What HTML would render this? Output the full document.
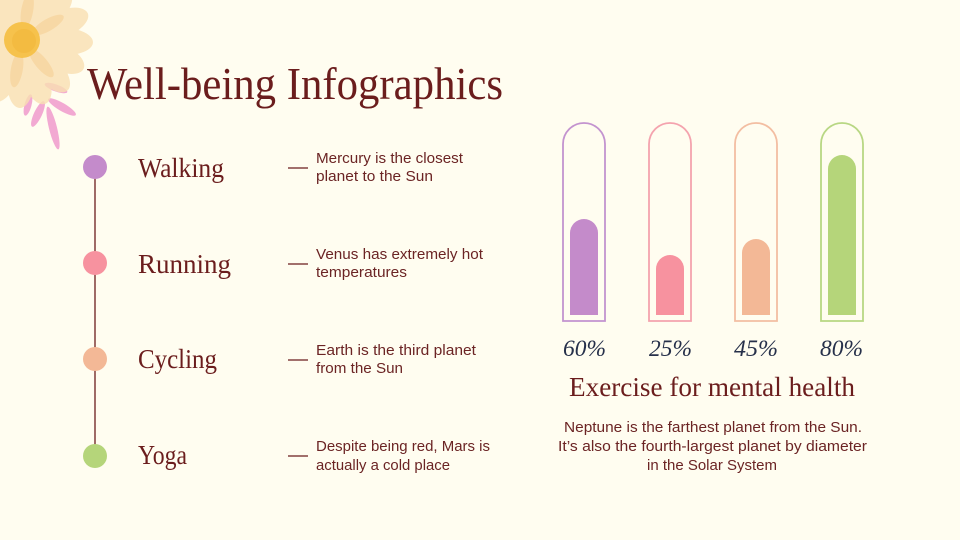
<!DOCTYPE html>
<html><head><meta charset="utf-8"><style>
html,body{margin:0;padding:0;background:#fffdf0;}
svg{display:block;}
</style></head><body>
<svg width="960" height="540" viewBox="0 0 960 540" xmlns="http://www.w3.org/2000/svg">
<rect width="960" height="540" fill="#fffdf0"/>
<!-- flower -->
<g>
  <g fill="#ee8ec8" opacity="0.75">
    <ellipse cx="56" cy="88" rx="12" ry="3.5" transform="rotate(20 56 88)"/>
    <ellipse cx="28" cy="105" rx="3.5" ry="11" transform="rotate(15 28 105)"/>
    <ellipse cx="38" cy="114" rx="4" ry="14" transform="rotate(25 38 114)"/>
    <ellipse cx="62" cy="107" rx="16" ry="4" transform="rotate(30 62 107)"/>
    <ellipse cx="53" cy="128" rx="4" ry="22" transform="rotate(-14 53 128)"/>
  </g>
  <g transform="translate(22 40)">
    <g fill="#f9e0b2" opacity="0.8">
      <ellipse cx="0" cy="-36" rx="14" ry="28"/>
      <ellipse cx="0" cy="-36" rx="14" ry="28" transform="rotate(22)"/>
      <ellipse cx="0" cy="-38" rx="14" ry="30" transform="rotate(45)"/>
      <ellipse cx="0" cy="-40" rx="14" ry="31" transform="rotate(68)"/>
      <ellipse cx="0" cy="-40" rx="14" ry="31" transform="rotate(92)"/>
      <ellipse cx="0" cy="-38" rx="14" ry="30" transform="rotate(115)"/>
      <ellipse cx="0" cy="-38" rx="14" ry="30" transform="rotate(138)"/>
      <ellipse cx="0" cy="-38" rx="14" ry="30" transform="rotate(160)"/>
      <ellipse cx="0" cy="-38" rx="14" ry="30" transform="rotate(182)"/>
      <ellipse cx="0" cy="-38" rx="14" ry="30" transform="rotate(205)"/>
      <ellipse cx="0" cy="-36" rx="14" ry="28" transform="rotate(228)"/>
      <ellipse cx="0" cy="-36" rx="14" ry="28" transform="rotate(260)"/>
      <ellipse cx="0" cy="-36" rx="14" ry="28" transform="rotate(300)"/>
      <ellipse cx="0" cy="-36" rx="14" ry="28" transform="rotate(335)"/>
    </g>
    <g fill="#f6cc8e" opacity="0.5">
      <ellipse cx="0" cy="-30" rx="6" ry="18" transform="rotate(60)"/>
      <ellipse cx="0" cy="-30" rx="6" ry="18" transform="rotate(140)"/>
      <ellipse cx="0" cy="-30" rx="6" ry="18" transform="rotate(190)"/>
      <ellipse cx="0" cy="-30" rx="6" ry="18" transform="rotate(10)"/>
    </g>
    <circle r="18" fill="#f6c24c"/>
    <circle r="12" cx="2" cy="1" fill="#f2b53a" opacity="0.6"/>
  </g>
</g>

<!-- title -->
<text x="87" y="99" font-family="Liberation Serif, serif" font-size="46" fill="#6b1d1d" textLength="416" lengthAdjust="spacingAndGlyphs">Well-being Infographics</text>

<!-- timeline -->
<line x1="95" y1="167" x2="95" y2="456" stroke="#6b1d1d" stroke-width="1.3"/>
<circle cx="95" cy="167" r="12" fill="#c48bcb"/>
<circle cx="95" cy="263" r="12" fill="#f7929f"/>
<circle cx="95" cy="359" r="12" fill="#f3b896"/>
<circle cx="95" cy="456" r="12" fill="#b5d57a"/>

<g font-family="Liberation Serif, serif" font-size="27" fill="#6b1d1d">
  <text x="138" y="177" textLength="86" lengthAdjust="spacingAndGlyphs">Walking</text>
  <text x="138" y="273" textLength="93" lengthAdjust="spacingAndGlyphs">Running</text>
  <text x="138" y="368" textLength="79" lengthAdjust="spacingAndGlyphs">Cycling</text>
  <text x="138" y="464" textLength="49" lengthAdjust="spacingAndGlyphs">Yoga</text>
</g>

<g stroke="#6b1d1d" stroke-width="1.2">
  <line x1="288" y1="168" x2="308" y2="168"/>
  <line x1="288" y1="264" x2="308" y2="264"/>
  <line x1="288" y1="360" x2="308" y2="360"/>
  <line x1="288" y1="456" x2="308" y2="456"/>
</g>

<g font-family="Liberation Sans, sans-serif" font-size="14.5" fill="#6b2424">
  <text x="316" y="163" textLength="147" lengthAdjust="spacingAndGlyphs">Mercury is the closest</text>
  <text x="316" y="181" textLength="117" lengthAdjust="spacingAndGlyphs">planet to the Sun</text>
  <text x="316" y="259" textLength="167" lengthAdjust="spacingAndGlyphs">Venus has extremely hot</text>
  <text x="316" y="277" textLength="91" lengthAdjust="spacingAndGlyphs">temperatures</text>
  <text x="316" y="355" textLength="160" lengthAdjust="spacingAndGlyphs">Earth is the third planet</text>
  <text x="316" y="373" textLength="87" lengthAdjust="spacingAndGlyphs">from the Sun</text>
  <text x="316" y="451" textLength="174" lengthAdjust="spacingAndGlyphs">Despite being red, Mars is</text>
  <text x="316" y="470" textLength="134" lengthAdjust="spacingAndGlyphs">actually a cold place</text>
</g>

<!-- bars -->
<g fill="none" stroke-width="1.8">
  <path d="M563,321 V144 A21,21 0 0 1 605,144 V321 Z" stroke="#c393cf"/>
  <path d="M649,321 V144 A21,21 0 0 1 691,144 V321 Z" stroke="#f4a3ae"/>
  <path d="M735,321 V144 A21,21 0 0 1 777,144 V321 Z" stroke="#f3bea2"/>
  <path d="M821,321 V144 A21,21 0 0 1 863,144 V321 Z" stroke="#b8d783"/>
</g>
<path d="M570,315 V233 A14,14 0 0 1 598,233 V315 Z" fill="#c48bca"/>
<path d="M656,315 V269 A14,14 0 0 1 684,269 V315 Z" fill="#f7929f"/>
<path d="M742,315 V253 A14,14 0 0 1 770,253 V315 Z" fill="#f3b896"/>
<path d="M828,315 V169 A14,14 0 0 1 856,169 V315 Z" fill="#b5d57a"/>

<g font-family="Liberation Serif, serif" font-style="italic" font-size="23" fill="#26304a">
  <text x="563" y="356" textLength="43" lengthAdjust="spacingAndGlyphs">60%</text>
  <text x="649" y="356" textLength="43" lengthAdjust="spacingAndGlyphs">25%</text>
  <text x="734" y="356" textLength="44" lengthAdjust="spacingAndGlyphs">45%</text>
  <text x="820" y="356" textLength="43" lengthAdjust="spacingAndGlyphs">80%</text>
</g>

<text x="569" y="396" font-family="Liberation Serif, serif" font-size="27" fill="#6b1d1d" textLength="286" lengthAdjust="spacingAndGlyphs">Exercise for mental health</text>
<g font-family="Liberation Sans, sans-serif" font-size="14.5" fill="#6b2424">
  <text x="564" y="432" textLength="298" lengthAdjust="spacingAndGlyphs">Neptune is the farthest planet from the Sun.</text>
  <text x="558" y="451" textLength="309" lengthAdjust="spacingAndGlyphs">It’s also the fourth-largest planet by diameter</text>
  <text x="647" y="470" textLength="130" lengthAdjust="spacingAndGlyphs">in the Solar System</text>
</g>
</svg>
</body></html>
